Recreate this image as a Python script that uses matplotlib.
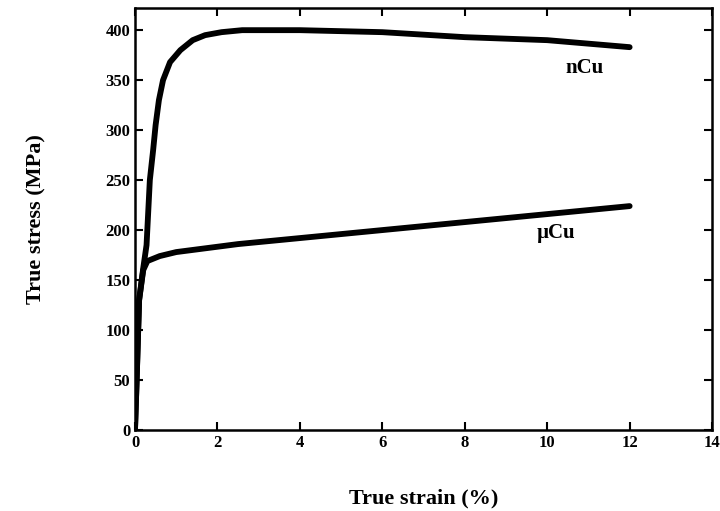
import matplotlib

matplotlib.use("Agg")

import matplotlib.pyplot as plt

# nanocrystalline Cu curve
ncu_strain = [0.0, 0.04, 0.1, 0.2, 0.28, 0.36, 0.44, 0.5, 0.58, 0.68, 0.85, 1.1, 1.4, 1.7, 2.1, 2.6, 4.0, 6.0, 8.0, 10.0, 12.0]
ncu_stress = [0.0, 50, 130, 162, 185, 250, 280, 305, 330, 350, 368, 380, 390, 395, 398, 400, 400, 398, 393, 390, 383]

# microcrystalline Cu curve
ucu_strain = [0.0, 0.04, 0.1, 0.2, 0.3, 0.6, 1.0, 2.5, 4.0, 6.0, 8.0, 10.0, 12.0]
ucu_stress = [0.0, 50, 130, 160, 169, 174, 178, 186, 192, 200, 208, 216, 224]

x_ticks = [0, 2, 4, 6, 8, 10, 12, 14]
y_ticks = [0, 50, 100, 150, 200, 250, 300, 350, 400]

plt.rcParams["font.family"] = ["Liberation Serif", "DejaVu Serif"]
plt.rcParams["font.weight"] = "bold"

fig = plt.figure(figsize=(7.2, 5.11), dpi=100)
ax = fig.add_axes([0.1875, 0.1585, 0.8015, 0.8255])

ax.plot(ncu_strain, ncu_stress, color="black", linewidth=4.2, solid_capstyle="round")
ax.plot(ucu_strain, ucu_stress, color="black", linewidth=4.2, solid_capstyle="round")

ax.text(10.9, 362, "nCu", fontsize=15, fontweight="bold", ha="center", va="center")
ax.text(10.2, 197, "\u00b5Cu", fontsize=15, fontweight="bold", ha="center", va="center")

ax.set_xlim(0, 14)
ax.set_ylim(0, 422)
ax.set_xticks(x_ticks)
ax.set_yticks(y_ticks)
ax.tick_params(direction="in", top=True, right=True, length=6, width=1.5, labelsize=12)
for spine in ax.spines.values():
    spine.set_linewidth(1.8)

ax.set_xlabel("True strain (%)", fontsize=16, fontweight="bold", labelpad=27)
ax.set_ylabel("True stress (MPa)", fontsize=16, fontweight="bold", labelpad=42)

fig.savefig("out.png", dpi=100)
plt.close(fig)
